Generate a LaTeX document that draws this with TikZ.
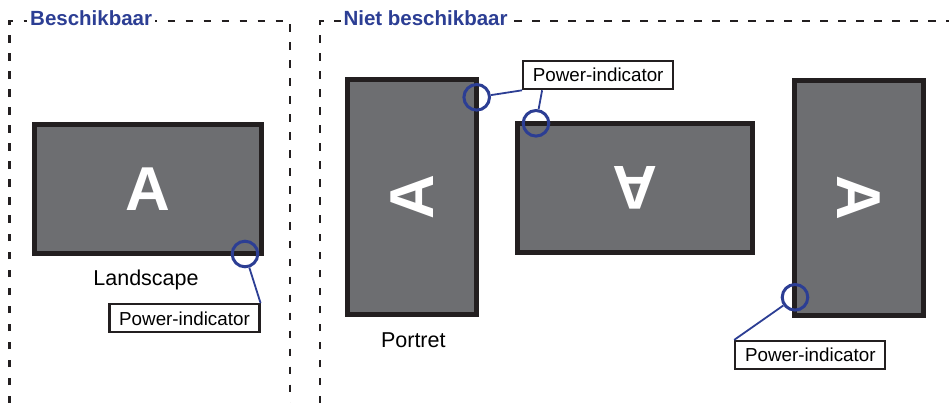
\documentclass[tikz,border=0pt]{standalone}
\usepackage{fontspec}
\setmainfont{Liberation Sans}
\usetikzlibrary{positioning}
\definecolor{ledblue}{RGB}{44,62,148}
\definecolor{scrgray}{RGB}{109,110,113}
\definecolor{scredge}{RGB}{35,31,32}

\begin{document}
\begin{tikzpicture}[
  x=1pt, y=-1pt,
  screen/.style={draw=scredge, fill=scrgray, line width=5pt, inner sep=0pt, text=white, font=\fontsize{62}{62}\selectfont\bfseries},
  ledring/.style={circle, draw=ledblue, line width=3pt, minimum size=25.6pt, inner sep=0pt},
  ledline/.style={draw=ledblue, line width=1.8pt},
  tagbox/.style={draw=scredge, line width=2.2pt, fill=white, minimum width=150pt, minimum height=28pt, inner sep=0pt, font=\fontsize{18.8}{20}\selectfont},
  zone/.style={draw=scredge, line width=2.2pt, dash pattern=on 7.5pt off 10.5pt},
  zonetitle/.style={fill=white, inner xsep=3pt, inner ysep=1pt, text=ledblue, font=\fontsize{20.5}{22}\selectfont\bfseries},
  caption/.style={inner sep=0pt, font=\fontsize{21.5}{24}\selectfont}
]
  \useasboundingbox (0,0) rectangle (949,403);

  % dashed zones
  \draw[zone] (9.5,403) -- (9.5,21) -- (290,21) -- (290,403);
  \draw[zone] (320,403) -- (320,21) -- (955,21);
  \node[zonetitle, anchor=base west] (okTitle) at (27,26) {Beschikbaar};
  \node[zonetitle, anchor=base west] (noTitle) at (340.3,26) {Niet beschikbaar};

  % screens
  \node[screen, minimum width=227pt, minimum height=129.5pt] (scrL) at (148,189.2) {A};
  \node[screen, minimum width=234pt, minimum height=129.2pt, rotate=90] (scrP) at (412.1,197) {A};
  \node[screen, minimum width=234.5pt, minimum height=129.5pt, rotate=180] (scrU) at (635.2,188.2) {A};
  \node[screen, minimum width=234pt, minimum height=129.3pt, rotate=-90] (scrR) at (858.8,198) {A};

  \node[caption, anchor=base] (capL) at (146,285.7) {Landscape};
  \node[caption, anchor=base] (capP) at (413.3,347.7) {Portret};

  % power indicator callouts
  \node[tagbox] (tag1) at (184.5,318.3) {Power-indicator};
  \node[tagbox] (tag2) at (598.2,75.2) {Power-indicator};
  \node[tagbox] (tag3) at (810.3,355) {Power-indicator};

  \node[ledring] (led1) at (245,254) {};
  \node[ledring] (led2) at (476.7,97.3) {};
  \node[ledring] (led3) at (536,123.3) {};
  \node[ledring] (led4) at (795,297.3) {};

  \draw[ledline] (led1) -- (tag1.north east);
  \draw[ledline] (led2) -- (tag2.south west);
  \draw[ledline] (led3) -- ([xshift=20pt]tag2.south west);
  \draw[ledline] (led4) -- (tag3.north west);
\end{tikzpicture}
\end{document}
